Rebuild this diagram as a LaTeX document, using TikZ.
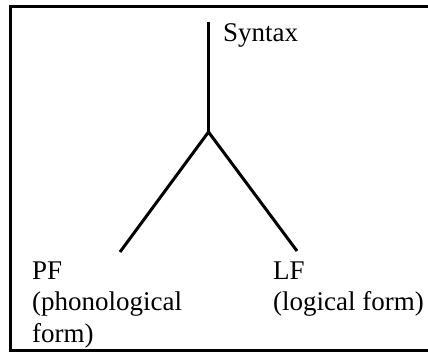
\documentclass[tikz,border=0pt]{standalone}
\usepackage{fontspec}
\setmainfont{Liberation Serif}
\usetikzlibrary{positioning}
\tikzset{
	label text/.style = {anchor = base west, inner sep = 0pt, font = \fontsize{27}{31}\selectfont},
	branch/.style = {line width = 3pt}
}
\begin{document}
\begin{tikzpicture}[x = 1pt, y = -1pt]
		\useasboundingbox (0,0) rectangle (428,352);
		% frame, open on the right
		\draw [line width = 3pt] (440, 6.5) -- (10.5, 6.5) -- (10.5, 350.5) -- (440, 350.5);
		% the tree
		\coordinate (top) at (208.5, 22);
		\coordinate (split) at (208.5, 132);
		\coordinate (pfend) at (120, 252);
		\coordinate (lfend) at (297, 251);
		\draw [branch] (top) -- (split);
		\draw [branch, line cap = butt] (pfend) -- (split) -- (lfend);
		\node[label text] (syntax) at (223, 42) {Syntax};
		\node[label text] (pf) at (32, 280) {PF};
		\node[label text] (pfa) at (32, 311) {(phonological};
		\node[label text] (pfb) at (32, 342) {form)};
		\node[label text] (lf) at (273, 280) {LF};
		\node[label text] (lfa) at (273, 311) {(logical form)};
\end{tikzpicture}
\end{document}
